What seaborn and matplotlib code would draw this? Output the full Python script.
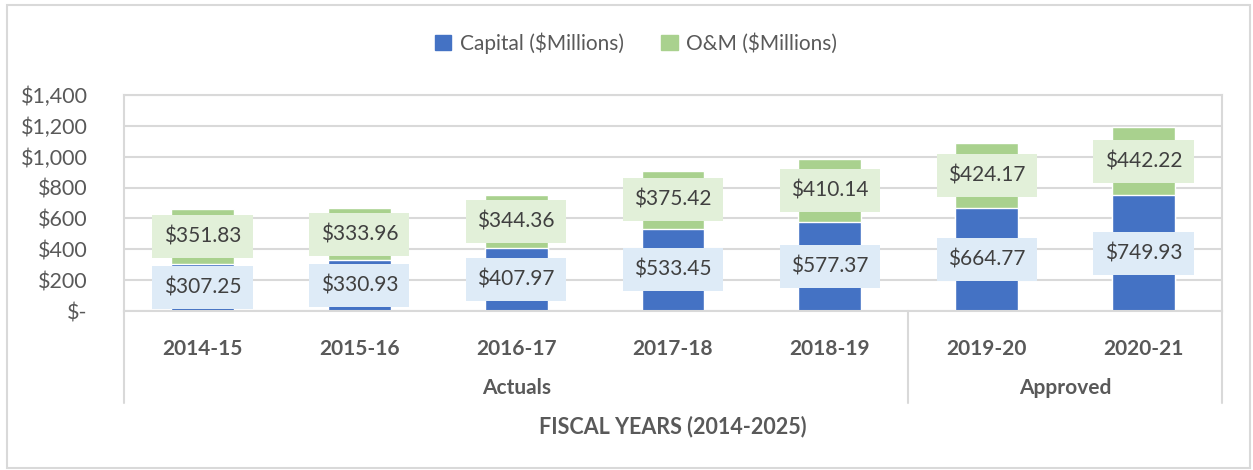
import numpy as np
import pandas as pd
import matplotlib.pyplot as plt
import matplotlib.patches as mpatches
from matplotlib.ticker import FuncFormatter
import seaborn as sns

# =======================
# Data
# =======================
years = ["2014-15", "2015-16", "2016-17", "2017-18", "2018-19", "2019-20", "2020-21"]
capital = [307.25, 330.93, 407.97, 533.45, 577.37, 664.77, 749.93]
om = [351.83, 333.96, 344.36, 375.42, 410.14, 424.17, 442.22]
groups = ["Actuals", "Approved"]
group_spans = [(0, 4), (5, 6)]

df = pd.DataFrame({"year": years, "capital": capital, "om": om})
df["total"] = df["capital"] + df["om"]

blue = "#4472C4"
green = "#A9D18E"
grey = "#595959"
line_c = "#D9D9D9"

sns.set_style("white")
plt.rcParams["font.family"] = ["Lato", "DejaVu Sans"]

fig = plt.figure(figsize=(12.53, 4.70), dpi=100)
ax = fig.add_axes([124 / 1253, 1 - 311 / 470, (1222 - 124) / 1253, 216 / 470])

# stacked bars: total (green) behind, capital (blue) in front
sns.barplot(data=df, x="year", y="total", color=green, width=0.4, ax=ax, saturation=1)
sns.barplot(data=df, x="year", y="capital", color=blue, width=0.4, ax=ax, saturation=1)

ax.set_xlim(-0.5, len(years) - 0.5)
ax.set_ylim(0, 1400)
ax.set_yticks(np.arange(0, 1401, 200))
ax.yaxis.set_major_formatter(FuncFormatter(lambda v, p: "$-" if v == 0 else f"${v:,.0f}"))
ax.grid(axis="y", color=line_c, linewidth=1.5)
ax.set_axisbelow(True)
for s in ax.spines.values():
    s.set_color(line_c)
    s.set_linewidth(1.5)

ax.tick_params(axis="y", length=0, pad=26, labelsize=15.5, labelcolor=grey)
ax.tick_params(axis="x", length=0, pad=20, labelsize=15, labelcolor=grey)
for t in ax.get_xticklabels():
    t.set_fontweight("bold")
ax.set_xlabel("")
ax.set_ylabel("")

# data labels
for i, (c, o) in enumerate(zip(capital, om)):
    ax.text(i, c / 2, f"${c:,.2f}", ha="center", va="center", fontsize=15, color="#404040",
            bbox=dict(boxstyle="square,pad=0.55", fc="#DEEBF7", ec="none"))
    ax.text(i, c + o / 2, f"${o:,.2f}", ha="center", va="center", fontsize=15, color="#404040",
            bbox=dict(boxstyle="square,pad=0.55", fc="#E2F0D9", ec="none"))

# multi-level category axis
tr = ax.get_xaxis_transform()
bottom = -(403 - 311) / 216
for xpos in [-0.5, 4.5, 6.5]:
    ax.plot([xpos, xpos], [0, bottom], transform=tr, color=line_c, lw=1.5, clip_on=False)
for name, (a, b) in zip(groups, group_spans):
    ax.text((a + b) / 2, -(388 - 311) / 216, name, transform=tr, ha="center", va="center",
            fontsize=15, fontweight="bold", color=grey)

fig.text(673 / 1253, 1 - 427 / 470, "FISCAL YEARS (2014-2025)", ha="center", va="center",
         fontsize=15.5, fontweight="bold", color=grey)

# legend
handles = [mpatches.Patch(color=blue, label="Capital ($Millions)"),
           mpatches.Patch(color=green, label="O&M ($Millions)")]
fig.legend(handles=handles, loc="center", bbox_to_anchor=(636 / 1253, 1 - 43 / 470), ncol=2,
           frameon=False, fontsize=15, labelcolor=grey, handlelength=0.8, handleheight=0.8,
           columnspacing=1.8, handletextpad=0.4)

# chart border
fig.patches.append(mpatches.Rectangle((7 / 1253, 2 / 470), 1243 / 1253, 463 / 470,
                                      transform=fig.transFigure, fill=False, ec=line_c, lw=1.5))

fig.savefig("out.png", dpi=100)
